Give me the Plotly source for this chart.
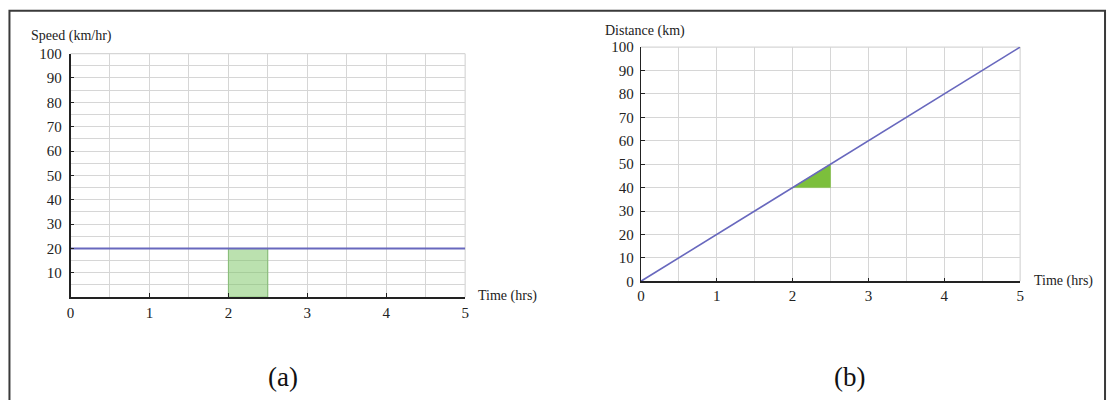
import plotly.graph_objects as go

# Data
time_line = [0, 5]
speed_line = [20, 20]
distance_line = [0, 100]

# highlighted interval
shade_t = [2, 2.5]
shade_speed = [20, 20]
tri_distance = [40, 50]

x_ticks = [0, 1, 2, 3, 4, 5]
speed_ticks = [10, 20, 30, 40, 50, 60, 70, 80, 90, 100]
dist_ticks = [0, 10, 20, 30, 40, 50, 60, 70, 80, 90, 100]

W, H = 1113, 400
FONT = "Liberation Serif"
LINE_COLOR = "#6868be"
GRID = "#d6d6d6"

fig = go.Figure()

# Left panel shading rectangle
fig.add_trace(go.Scatter(
    x=[shade_t[0], shade_t[0], shade_t[1], shade_t[1], shade_t[0]],
    y=[0, shade_speed[0], shade_speed[1], 0, 0],
    fill="toself", fillcolor="rgba(120,195,95,0.5)",
    line=dict(color="rgba(110,180,90,0.7)", width=1),
    mode="lines", xaxis="x", yaxis="y", hoverinfo="skip", showlegend=False))
fig.add_trace(go.Scatter(x=time_line, y=speed_line, mode="lines",
                         line=dict(color=LINE_COLOR, width=2),
                         xaxis="x", yaxis="y", showlegend=False))

# Right panel triangle
fig.add_trace(go.Scatter(
    x=[shade_t[0], shade_t[1], shade_t[1], shade_t[0]],
    y=[tri_distance[0], tri_distance[1], tri_distance[0], tri_distance[0]],
    fill="toself", fillcolor="#7cbf3c",
    line=dict(color="#7cbf3c", width=0.5),
    mode="lines", xaxis="x2", yaxis="y2", hoverinfo="skip", showlegend=False))
fig.add_trace(go.Scatter(x=time_line, y=distance_line, mode="lines",
                         line=dict(color=LINE_COLOR, width=1.6),
                         xaxis="x2", yaxis="y2", showlegend=False))

tickfont = dict(family=FONT, size=15, color="#222")

def px_x(p):
    return p / W

def px_y(p):
    t = (p - 6.3) / 0.9675
    return 1 - t / H

common_x = dict(range=[0, 5], tickvals=x_ticks, ticks="inside", ticklen=4,
                tickcolor="#222", showline=True, linecolor="#222", linewidth=1.5,
                showgrid=True, gridcolor=GRID, gridwidth=1.2,
                minor=dict(tickvals=[0.5, 1.5, 2.5, 3.5, 4.5], showgrid=True,
                           gridcolor=GRID, gridwidth=1.2),
                zeroline=False, tickfont=tickfont, fixedrange=True)

fig.update_layout(
    width=W, height=H, margin=dict(l=0, r=0, t=0, b=0),
    paper_bgcolor="white", plot_bgcolor="white",
    xaxis=dict(common_x, domain=[px_x(67), px_x(464.5)], anchor="y", ticklabelstandoff=1),
    yaxis=dict(domain=[px_y(297.7), px_y(52.3)], anchor="x", range=[0, 100],
               tickvals=speed_ticks, ticks="inside", ticklen=4, tickcolor="#222",
               showline=True, linecolor="#222", linewidth=1.5,
               showgrid=True, gridcolor=GRID, gridwidth=1.2,
               minor=dict(dtick=5, showgrid=True, gridcolor=GRID, gridwidth=1.2),
               zeroline=False, tickfont=tickfont, fixedrange=True, ticklabelstandoff=4),
    xaxis2=dict(common_x, domain=[px_x(641.5), px_x(1023.5)], anchor="y2", ticklabelstandoff=0),
    yaxis2=dict(domain=[px_y(281.7), px_y(45.7)], anchor="x2", range=[0, 100],
                tickvals=dist_ticks, ticks="inside", ticklen=4, tickcolor="#222",
                showline=True, linecolor="#222", linewidth=1.2,
                showgrid=True, gridcolor=GRID, gridwidth=1.2,
                zeroline=False, tickfont=tickfont, fixedrange=True, ticklabelstandoff=3),
    showlegend=False,
)

# Top/right frame lines of plot areas (light grey)
for xa, ya in [("x", "y"), ("x2", "y2")]:
    fig.add_shape(type="line", xref=f"{xa} domain", yref=f"{ya} domain",
                  x0=0, x1=1, y0=1, y1=1, line=dict(color=GRID, width=1.2), layer="below")
    fig.add_shape(type="line", xref=f"{xa} domain", yref=f"{ya} domain",
                  x0=1, x1=1, y0=0, y1=1, line=dict(color=GRID, width=1.2), layer="below")

# Outer border
fig.add_shape(type="rect", xref="paper", yref="paper",
              x0=px_x(5.5), x1=px_x(1109), y0=-0.05, y1=px_y(9),
              line=dict(color="#3a3a3a", width=2))

ann_font = dict(family=FONT, size=14, color="#222")
annotations = [
    dict(text="Speed (km/hr)", x=px_x(25), y=px_y(35), xanchor="left", yanchor="middle"),
    dict(text="Time (hrs)", x=px_x(475), y=px_y(297), xanchor="left", yanchor="middle"),
    dict(text="Distance (km)", x=px_x(603), y=px_y(29), xanchor="left", yanchor="middle"),
    dict(text="Time (hrs)", x=px_x(1035), y=px_y(281), xanchor="left", yanchor="middle"),
]
for a in annotations:
    fig.add_annotation(xref="paper", yref="paper", showarrow=False, font=ann_font, **a)

for txt, xp in [("(a)", 281), ("(b)", 852)]:
    fig.add_annotation(xref="paper", yref="paper", showarrow=False, text=txt,
                       x=px_x(xp), y=px_y(378), xanchor="center", yanchor="middle",
                       font=dict(family=FONT, size=27, color="#111"))

fig.write_html("out.html")
